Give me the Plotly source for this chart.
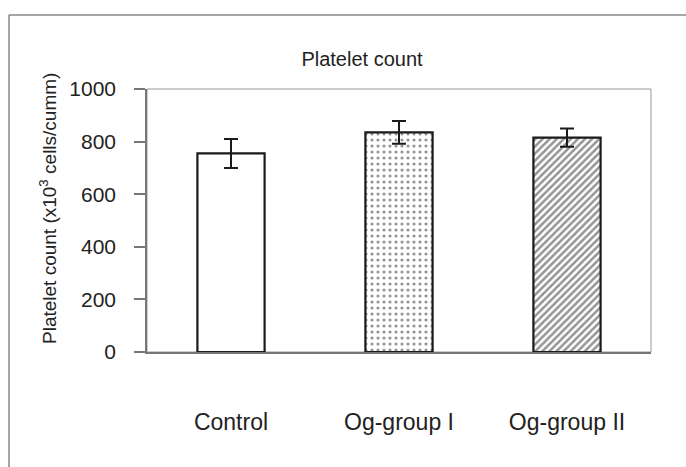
import plotly.graph_objects as go

categories = ["Control", "Og-group I", "Og-group II"]
means = [755, 835, 815]
errors = [55, 43, 35]
patterns = ["", ".", "/"]

W, H = 686, 467
L, R, T, B = 147, 35, 89, 115

fig = go.Figure()
fig.add_trace(go.Bar(
    x=categories,
    y=means,
    width=0.4,
    marker=dict(
        color="white",
        line=dict(color="#1a1a1a", width=2.2),
        pattern=dict(shape=patterns, fgcolor="#2a2a2a", bgcolor="white",
                     size=[8, 6, 5], solidity=[0.2, 0.22, 0.5]),
    ),
    error_y=dict(type="data", array=errors, visible=True,
                 color="#1a1a1a", thickness=2, width=7),
    showlegend=False,
))

font_family = "Liberation Sans, Arial, sans-serif"

fig.update_layout(
    width=W, height=H,
    margin=dict(l=L, r=R, t=T, b=B, autoexpand=False),
    paper_bgcolor="white",
    plot_bgcolor="white",
    font=dict(family=font_family, color="#222222"),
    title=dict(text="Platelet count", x=362 / W, xanchor="center",
               y=1 - 59 / H, yanchor="middle", yref="container",
               font=dict(size=20, color="#222222")),
    bargap=0.6,
)

fig.update_xaxes(
    range=[-0.5, 2.5],
    showline=True, linecolor="#777777", linewidth=1.5,
    mirror=False,
    ticks="",
    ticklabelstandoff=49,
    tickfont=dict(size=23, color="#222222"),
    showgrid=False, zeroline=False,
)
fig.update_yaxes(
    range=[0, 1000],
    tickvals=[0, 200, 400, 600, 800, 1000],
    showline=True, linecolor="#777777", linewidth=1.5,
    ticks="outside", ticklen=11, tickcolor="#777777", tickwidth=1.5,
    ticklabelstandoff=14,
    tickfont=dict(size=21, color="#222222"),
    showgrid=False, zeroline=False,
)

# plot-area border (top and right, light gray)
fig.add_shape(type="rect", xref="paper", yref="paper", x0=0, x1=1, y0=0, y1=1,
              line=dict(color="#999999", width=1), layer="below")
# outer chart frame (top and left edges)
fig.add_shape(type="line", xref="paper", yref="paper",
              x0=(9 - L) / (W - L - R), x1=(W - L) / (W - L - R),
              y0=1 + (T - 15) / (H - T - B), y1=1 + (T - 15) / (H - T - B),
              line=dict(color="#888888", width=1.5))
fig.add_shape(type="line", xref="paper", yref="paper",
              x0=(9 - L) / (W - L - R), x1=(9 - L) / (W - L - R),
              y0=1 + (T - 15) / (H - T - B), y1=-B / (H - T - B),
              line=dict(color="#888888", width=1.5))

fig.add_annotation(
    text="Platelet count (x10<sup>3</sup> cells/cumm)",
    xref="paper", yref="paper",
    x=(48 - L) / (W - L - R), y=(352 - 209) / (H - T - B),
    xanchor="center", yanchor="middle",
    textangle=-90, showarrow=False,
    font=dict(size=19, color="#222222", family=font_family),
)

fig.write_html("out.html")
